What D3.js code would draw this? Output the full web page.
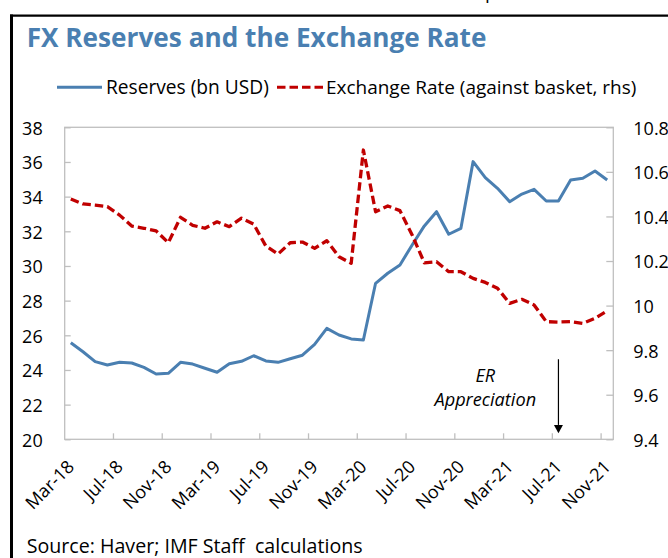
<!DOCTYPE html>
<html>
<head>
<meta charset="utf-8">
<script src="https://cdnjs.cloudflare.com/ajax/libs/d3/7.8.5/d3.min.js"></script>
<style>
  body { margin: 0; background: #fff; }
  text { font-family: "Open Sans", "Noto Sans", sans-serif; fill: #000; }
</style>
</head>
<body>
<svg id="chart" width="668" height="558"></svg>
<script>
var months = ["Mar-18","Apr-18","May-18","Jun-18","Jul-18","Aug-18","Sep-18","Oct-18","Nov-18","Dec-18",
  "Jan-19","Feb-19","Mar-19","Apr-19","May-19","Jun-19","Jul-19","Aug-19","Sep-19","Oct-19","Nov-19","Dec-19",
  "Jan-20","Feb-20","Mar-20","Apr-20","May-20","Jun-20","Jul-20","Aug-20","Sep-20","Oct-20","Nov-20","Dec-20",
  "Jan-21","Feb-21","Mar-21","Apr-21","May-21","Jun-21","Jul-21","Aug-21","Sep-21","Oct-21","Nov-21"];

// reserves, bn USD (left axis)
var reserves = [25.57, 25.05, 24.48, 24.29, 24.44, 24.40, 24.15, 23.77, 23.81, 24.44,
  24.34, 24.10, 23.87, 24.36, 24.50, 24.82, 24.52, 24.44, 24.65, 24.85, 25.48, 26.40,
  26.02, 25.79, 25.73, 29.00, 29.58, 30.06, 31.21, 32.31, 33.13, 31.83, 32.17, 36.02,
  35.10, 34.48, 33.71, 34.15, 34.42, 33.75, 33.75, 34.96, 35.06, 35.48, 34.96];

// exchange rate against basket (right axis)
var exchangeRate = [10.478, 10.456, 10.451, 10.444, 10.406, 10.357, 10.347, 10.335, 10.282, 10.396,
  10.360, 10.347, 10.376, 10.354, 10.392, 10.366, 10.267, 10.231, 10.282, 10.285, 10.257, 10.291,
  10.219, 10.190, 10.698, 10.421, 10.447, 10.426, 10.317, 10.192, 10.197, 10.152, 10.152, 10.122,
  10.104, 10.078, 10.010, 10.028, 10.003, 9.928, 9.926, 9.928, 9.920, 9.943, 9.976];

var xTickLabels = ["Mar-18","Jul-18","Nov-18","Mar-19","Jul-19","Nov-19","Mar-20","Jul-20","Nov-20","Mar-21","Jul-21","Nov-21"];
var leftTicks = [20, 22, 24, 26, 28, 30, 32, 34, 36, 38];
var rightTicks = [9.4, 9.6, 9.8, 10, 10.2, 10.4, 10.6, 10.8];

var blue = "#4a7fb1";
var red = "#c00000";
var frameGrey = "#bfbfbf";

var plot = { left: 64.7, right: 613.3, top: 127.3, bottom: 439.3 };

var svg = d3.select("#chart");

svg.append("rect").attr("width", 668).attr("height", 558).attr("fill", "#fff");

// scales
var xScale = d3.scaleBand().domain(months).range([plot.left, plot.right]);
var yLeft = d3.scaleLinear().domain([20, 38]).range([plot.bottom, plot.top]);
var yRight = d3.scaleLinear().domain([9.4, 10.8]).range([plot.bottom, plot.top]);

function cx(m) {
    return xScale(m) + xScale.bandwidth() / 2;
}

// scale a text so its length matches a width
function fitWidth(sel, width) {
    var size = parseFloat(sel.style("font-size"));
    var len = sel.node().getComputedTextLength();
    sel.style("font-size", (size * width / len) + "px");
}

// cut-off text from the page above
svg.append("text")
    .attr("x", 485).attr("y", -1)
    .style("font-size", "19px")
    .text("p");

// black frame
svg.append("line")
    .attr("x1", 10).attr("x2", 668).attr("y1", 15.7).attr("y2", 15.7)
    .attr("stroke", "#000").attr("stroke-width", 2.2);
svg.append("line")
    .attr("x1", 11.5).attr("x2", 11.5).attr("y1", 14.6).attr("y2", 558)
    .attr("stroke", "#000").attr("stroke-width", 3);

// title
var title = svg.append("text")
    .attr("x", 26.7).attr("y", 46.7)
    .style("font-size", "25px")
    .style("font-weight", "bold")
    .style("fill", blue)
    .text("FX Reserves and the Exchange Rate");
fitWidth(title, 460);

// legend
svg.append("line")
    .attr("x1", 57).attr("x2", 102).attr("y1", 87.3).attr("y2", 87.3)
    .attr("stroke", blue).attr("stroke-width", 3);
var leg1 = svg.append("text")
    .attr("x", 106).attr("y", 94)
    .style("font-size", "18px")
    .text("Reserves (bn USD)");
fitWidth(leg1, 163);
svg.append("line")
    .attr("x1", 277).attr("x2", 323).attr("y1", 87.3).attr("y2", 87.3)
    .attr("stroke", red).attr("stroke-width", 3)
    .attr("stroke-dasharray", "8.5,4");
var leg2 = svg.append("text")
    .attr("x", 326).attr("y", 94)
    .style("font-size", "18px")
    .text("Exchange Rate (against basket, rhs)");
fitWidth(leg2, 310.7);

// plot frame
svg.append("rect")
    .attr("x", plot.left).attr("y", plot.top)
    .attr("width", plot.right - plot.left).attr("height", plot.bottom - plot.top)
    .attr("fill", "none").attr("stroke", frameGrey).attr("stroke-width", 1.3);

// left axis, ticks inside
var gLeft = svg.append("g")
    .attr("transform", "translate(" + plot.left + ",0)")
    .call(d3.axisLeft(yLeft).tickValues(leftTicks).tickSizeInner(-6).tickSizeOuter(0).tickPadding(22));

// right axis
var gRight = svg.append("g")
    .attr("transform", "translate(" + plot.right + ",0)")
    .call(d3.axisRight(yRight).tickValues(rightTicks)
        .tickFormat(function (d) { return String(+d.toFixed(1)); })
        .tickSizeInner(-7).tickSizeOuter(0).tickPadding(20));

[gLeft, gRight].forEach(function (g) {
    g.select(".domain").remove();
    g.selectAll(".tick line").attr("stroke", frameGrey).attr("stroke-width", 1.3);
    g.selectAll(".tick text")
        .attr("fill", "#000")
        .attr("dy", "0.38em")
        .style("font-family", "'Open Sans', sans-serif")
        .style("font-size", "18px");
});

// x axis ticks every 4 months, pointing up
var tickMonths = months.filter(function (d, i) { return i > 0 && i % 4 == 0; });
svg.append("g").selectAll("line")
    .data(tickMonths)
    .enter().append("line")
    .attr("x1", function (d) { return xScale(d); })
    .attr("x2", function (d) { return xScale(d); })
    .attr("y1", plot.bottom)
    .attr("y2", plot.bottom - 6)
    .attr("stroke", frameGrey).attr("stroke-width", 1.3);

svg.append("g").selectAll("text")
    .data(xTickLabels)
    .enter().append("text")
    .attr("text-anchor", "end")
    .style("font-size", "18px")
    .attr("transform", function (d) {
        return "translate(" + (cx(d) + 4.5) + ",468) rotate(-45)";
    })
    .text(function (d) { return d; });

// series
var lineLeft = d3.line()
    .x(function (d, i) { return cx(months[i]); })
    .y(function (d) { return yLeft(d); });
var lineRight = d3.line()
    .x(function (d, i) { return cx(months[i]); })
    .y(function (d) { return yRight(d); });

svg.append("path")
    .datum(reserves)
    .attr("d", lineLeft)
    .attr("fill", "none")
    .attr("stroke", blue)
    .attr("stroke-width", 3)
    .attr("stroke-linejoin", "round");

svg.append("path")
    .datum(exchangeRate)
    .attr("d", lineRight)
    .attr("fill", "none")
    .attr("stroke", red)
    .attr("stroke-width", 3.3)
    .attr("stroke-dasharray", "8.5,4")
    .attr("stroke-linejoin", "round");

// annotation
var noteX = cx("Jan-21");
svg.append("text")
    .attr("x", noteX).attr("y", yLeft(23.32))
    .attr("text-anchor", "middle")
    .style("font-size", "18px")
    .style("font-style", "italic")
    .text("ER");
var note2 = svg.append("text")
    .attr("x", noteX).attr("y", yLeft(21.92))
    .attr("text-anchor", "middle")
    .style("font-size", "18px")
    .style("font-style", "italic")
    .text("Appreciation");
fitWidth(note2, 101.7);

var arrowX = cx("Jul-21");
svg.append("line")
    .attr("x1", arrowX).attr("x2", arrowX)
    .attr("y1", yLeft(24.62)).attr("y2", yLeft(20.83))
    .attr("stroke", "#000").attr("stroke-width", 1.2);
svg.append("path")
    .attr("d", "M" + (arrowX - 4.5) + "," + yLeft(20.83) + "L" + (arrowX + 4.5) + "," + yLeft(20.83) +
        "L" + arrowX + "," + yLeft(20.35) + "Z")
    .attr("fill", "#000");

// source
var source = svg.append("text")
    .attr("x", 26.7).attr("y", 553)
    .style("font-size", "19px")
    .attr("xml:space", "preserve")
    .text("Source: Haver; IMF Staff  calculations");
fitWidth(source, 336);
</script>
</body>
</html>
